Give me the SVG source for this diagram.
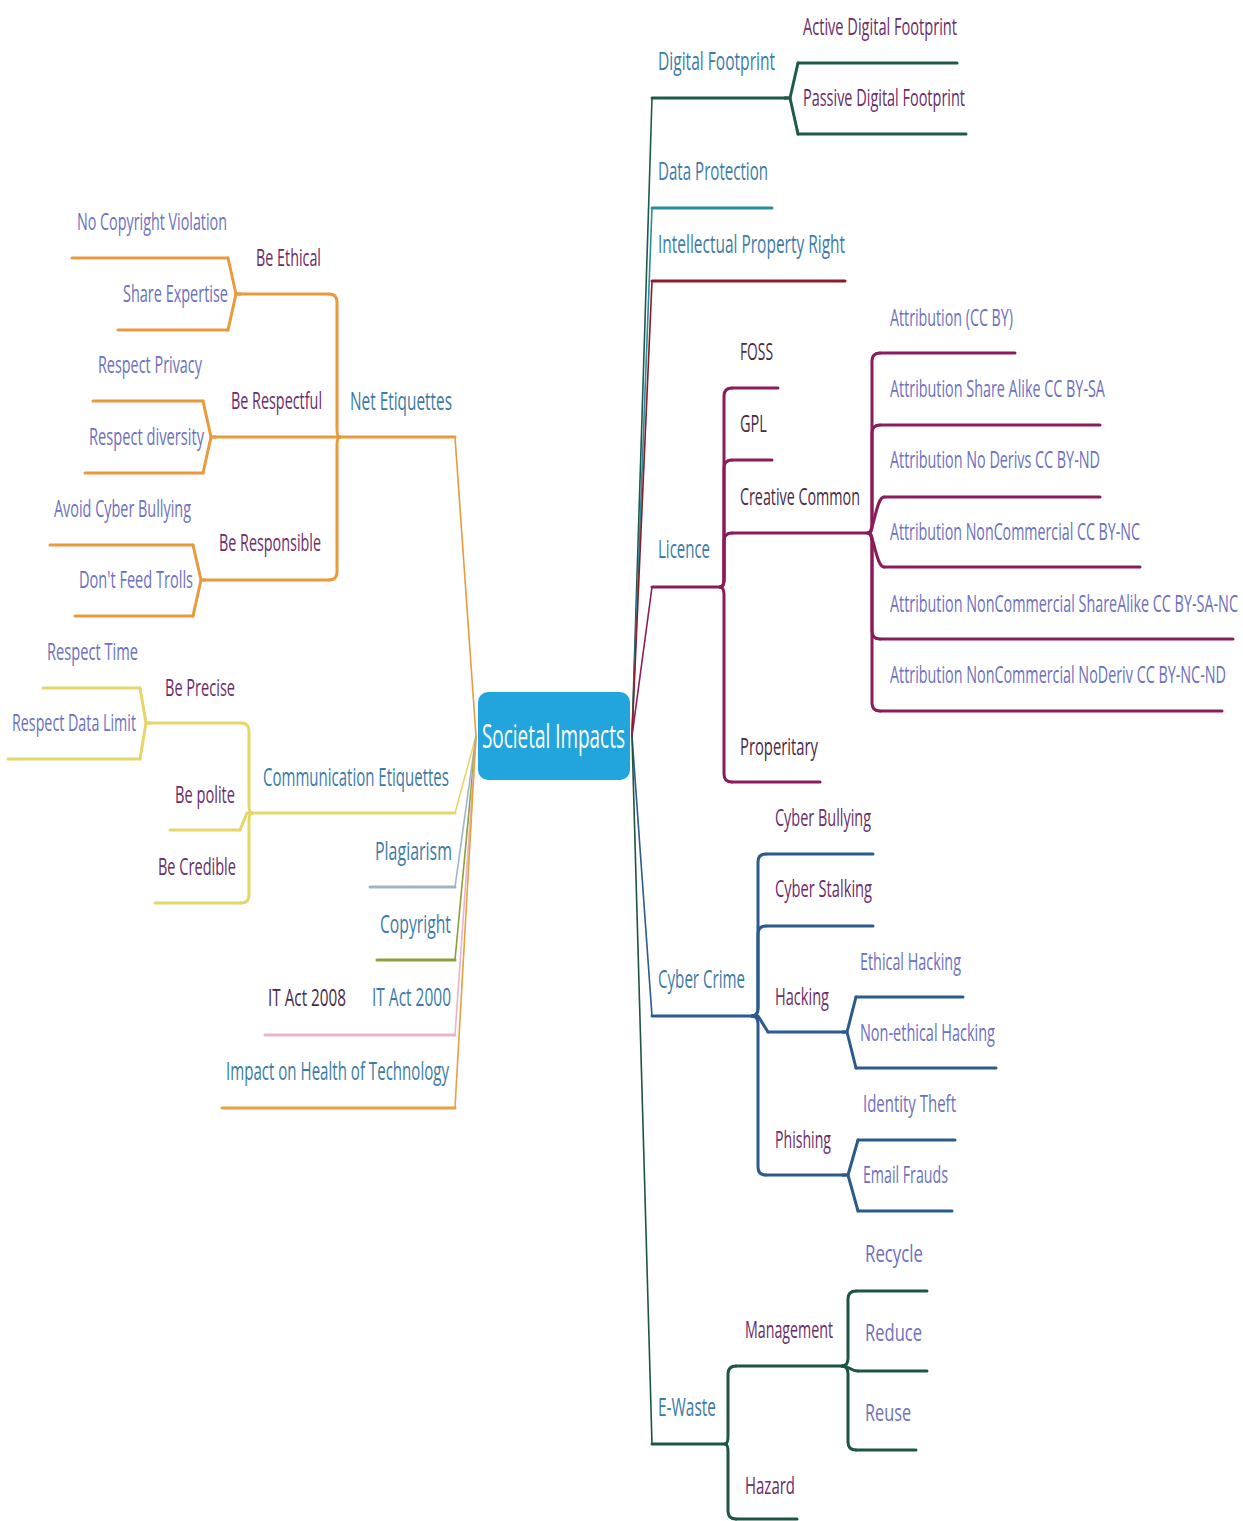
<svg xmlns="http://www.w3.org/2000/svg" width="1243" height="1521" viewBox="0 0 1243 1521">
<style>
text{font-family:"Open Sans","Liberation Sans",sans-serif;transform:scale(0.6,1);transform-origin:0 0}
.l1{font-size:25px;fill:#3b7ba6}
.l2{font-size:24px;fill:#6a2c6a}
.l2d{font-size:24px;fill:#4a2a48}
.l3{font-size:23px;fill:#6c70c0}
.c{fill:none;stroke-width:3;stroke-linecap:round;stroke-linejoin:round}
.tr{fill:none;stroke-width:1.6}
.df{stroke:#1d5a4c}.dp{stroke:#2a8c9c}.ip{stroke:#8b1a2a}.li{stroke:#8a1c5a}.cc{stroke:#2a5a8e}.ew{stroke:#1e5446}
.ne{stroke:#e89a3c}.ce{stroke:#e6d66a}.pl{stroke:#a0b4c8}.co{stroke:#8aa03a}.it{stroke:#e8b4cc}.ih{stroke:#e8a040}
</style>
<g id="connectors">
<path class="tr df" d="M632,736 L652,98"/>
<path class="tr dp" d="M632,736 L652,208"/>
<path class="tr ip" d="M632,736 L652,281"/>
<path class="tr li" d="M632,736 L652,587"/>
<path class="tr cc" d="M632,736 L652,1016"/>
<path class="tr ew" d="M632,736 L652,1444"/>
<path class="tr ne" d="M476,736 L455,437"/>
<path class="tr ce" d="M476,736 L455,813"/>
<path class="tr pl" d="M476,736 L455,887"/>
<path class="tr co" d="M476,736 L455,960"/>
<path class="tr it" d="M476,736 L455,1035"/>
<path class="tr ih" d="M476,736 L455,1108"/>
<path class="c df" d="M785,98 L790,98 L798,63"/>
<path class="c df" d="M785,98 L790,98 L798,134"/>
<path class="c li" d="M720,587 Q724,587 724,579 V396 Q724,388 732,388"/>
<path class="c li" d="M720,587 Q724,587 724,579 V468 Q724,460 732,460"/>
<path class="c li" d="M720,587 Q724,587 724,579 V541 Q724,533 732,533"/>
<path class="c li" d="M720,587 Q724,587 724,595 V774 Q724,782 732,782"/>
<path class="c li" d="M868,533 Q872,533 872,525 V361 Q872,353 880,353"/>
<path class="c li" d="M868,533 Q872,533 872,525 V433 Q872,425 880,425"/>
<path class="c li" d="M868,533 C874,533 876,497 884,497"/>
<path class="c li" d="M868,533 C874,533 876,567 884,567"/>
<path class="c li" d="M868,533 Q872,533 872,541 V631 Q872,639 880,639"/>
<path class="c li" d="M868,533 Q872,533 872,541 V703 Q872,711 880,711"/>
<path class="c cc" d="M752,1016 Q758,1016 758,1008 V862 Q758,854 766,854"/>
<path class="c cc" d="M752,1016 Q758,1016 758,1008 V934 Q758,926 766,926"/>
<path class="c cc" d="M752,1016 L758,1016 L768,1032"/>
<path class="c cc" d="M752,1016 Q758,1016 758,1024 V1167 Q758,1175 766,1175"/>
<path class="c cc" d="M843,1032 L847,1032 L856,997"/>
<path class="c cc" d="M843,1032 L847,1032 L856,1068"/>
<path class="c cc" d="M843,1175 L848,1175 L858,1140"/>
<path class="c cc" d="M843,1175 L848,1175 L858,1211"/>
<path class="c ew" d="M725,1444 Q728,1444 728,1436 V1374 Q728,1366 736,1366"/>
<path class="c ew" d="M725,1444 Q728,1444 728,1452 V1511 Q728,1519 736,1519"/>
<path class="c ew" d="M842,1366 Q848,1366 848,1358 V1299 Q848,1291 856,1291"/>
<path class="c ew" d="M842,1366 C850,1366 850,1371 858,1371"/>
<path class="c ew" d="M842,1366 Q848,1366 848,1374 V1442 Q848,1450 856,1450"/>
<path class="c ne" d="M340,437 Q337,437 337,429 V302 Q337,294 329,294"/>
<path class="c ne" d="M340,437 Q337,437 337,445 V572 Q337,580 329,580"/>
<path class="c ne" d="M240,294 L236,294 L228,258"/>
<path class="c ne" d="M240,294 L236,294 L228,330"/>
<path class="c ne" d="M215,437 L211,437 L203,401"/>
<path class="c ne" d="M215,437 L211,437 L203,473"/>
<path class="c ne" d="M205,580 L201,580 L193,545"/>
<path class="c ne" d="M205,580 L201,580 L193,616"/>
<path class="c ce" d="M252,813 Q249,813 249,805 V731 Q249,723 241,723"/>
<path class="c ce" d="M252,813 L247,813 L240,830"/>
<path class="c ce" d="M252,813 Q249,813 249,821 V895 Q249,903 241,903"/>
<path class="c ce" d="M150,723 L146,723 L140,688"/>
<path class="c ce" d="M150,723 L146,723 L140,759"/>
</g>
<g id="n-center">
<rect x="478" y="692" width="152" height="88" rx="10" fill="#22a5dc"/>
<text x="803.3" y="748" font-size="33" fill="#ffffff" textLength="238.3" lengthAdjust="spacingAndGlyphs">Societal Impacts</text>
</g>
<g id="n-digital-footprint"><path class="c df" d="M652,98 H785"/><text class="l1" x="1096.7" y="70" textLength="195" lengthAdjust="spacingAndGlyphs">Digital Footprint</text></g>
<g id="n-active-df"><path class="c df" d="M798,63 H957"/><text class="l2" x="1338.3" y="35" textLength="256.7" lengthAdjust="spacingAndGlyphs">Active Digital Footprint</text></g>
<g id="n-passive-df"><path class="c df" d="M798,134 H966"/><text class="l2" x="1338.3" y="106" textLength="270" lengthAdjust="spacingAndGlyphs">Passive Digital Footprint</text></g>
<g id="n-data-protection"><path class="c dp" d="M652,208 H772"/><text class="l1" x="1096.7" y="180" textLength="183.3" lengthAdjust="spacingAndGlyphs">Data Protection</text></g>
<g id="n-ipr"><path class="c ip" d="M652,281 H845"/><text class="l1" x="1096.7" y="253" textLength="311.7" lengthAdjust="spacingAndGlyphs">Intellectual Property Right</text></g>
<g id="n-licence"><path class="c li" d="M652,587 H720"/><text class="l1" x="1096.7" y="558" textLength="86.7" lengthAdjust="spacingAndGlyphs">Licence</text></g>
<g id="n-foss"><path class="c li" d="M732,388 H778"/><text class="l2d" x="1233.3" y="360" textLength="55" lengthAdjust="spacingAndGlyphs">FOSS</text></g>
<g id="n-gpl"><path class="c li" d="M732,460 H772"/><text class="l2d" x="1233.3" y="432" textLength="45" lengthAdjust="spacingAndGlyphs">GPL</text></g>
<g id="n-creative-common"><path class="c li" d="M732,533 H868"/><text class="l2d" x="1233.3" y="505" textLength="200" lengthAdjust="spacingAndGlyphs">Creative Common</text></g>
<g id="n-properitary"><path class="c li" d="M732,782 H820"/><text class="l2d" x="1233.3" y="755" textLength="130" lengthAdjust="spacingAndGlyphs">Properitary</text></g>
<g id="n-cc-by"><path class="c li" d="M880,353 H1015"/><text class="l3" x="1483.3" y="326" textLength="205" lengthAdjust="spacingAndGlyphs">Attribution (CC BY)</text></g>
<g id="n-cc-by-sa"><path class="c li" d="M880,425 H1100"/><text class="l3" x="1483.3" y="397" textLength="358.3" lengthAdjust="spacingAndGlyphs">Attribution Share Alike CC BY-SA</text></g>
<g id="n-cc-by-nd"><path class="c li" d="M884,497 H1100"/><text class="l3" x="1483.3" y="468" textLength="350" lengthAdjust="spacingAndGlyphs">Attribution No Derivs CC BY-ND</text></g>
<g id="n-cc-by-nc"><path class="c li" d="M884,567 H1140"/><text class="l3" x="1483.3" y="540" textLength="416.7" lengthAdjust="spacingAndGlyphs">Attribution NonCommercial CC BY-NC</text></g>
<g id="n-cc-by-sa-nc"><path class="c li" d="M880,639 H1233"/><text class="l3" x="1483.3" y="612" textLength="580" lengthAdjust="spacingAndGlyphs">Attribution NonCommercial ShareAlike CC BY-SA-NC</text></g>
<g id="n-cc-by-nc-nd"><path class="c li" d="M880,711 H1222"/><text class="l3" x="1483.3" y="683" textLength="560" lengthAdjust="spacingAndGlyphs">Attribution NonCommercial NoDeriv CC BY-NC-ND</text></g>
<g id="n-cyber-crime"><path class="c cc" d="M652,1016 H752"/><text class="l1" x="1096.7" y="988" textLength="145" lengthAdjust="spacingAndGlyphs">Cyber Crime</text></g>
<g id="n-cyber-bullying"><path class="c cc" d="M766,854 H873"/><text class="l2" x="1291.7" y="826" textLength="160" lengthAdjust="spacingAndGlyphs">Cyber Bullying</text></g>
<g id="n-cyber-stalking"><path class="c cc" d="M766,926 H873"/><text class="l2" x="1291.7" y="897" textLength="161.7" lengthAdjust="spacingAndGlyphs">Cyber Stalking</text></g>
<g id="n-hacking"><path class="c cc" d="M768,1032 H843"/><text class="l2" x="1291.7" y="1005" textLength="90" lengthAdjust="spacingAndGlyphs">Hacking</text></g>
<g id="n-phishing"><path class="c cc" d="M766,1175 H843"/><text class="l2" x="1291.7" y="1148" textLength="93.3" lengthAdjust="spacingAndGlyphs">Phishing</text></g>
<g id="n-ethical-hacking"><path class="c cc" d="M856,997 H963"/><text class="l3" x="1433.3" y="970" textLength="168.3" lengthAdjust="spacingAndGlyphs">Ethical Hacking</text></g>
<g id="n-nonethical-hacking"><path class="c cc" d="M856,1068 H996"/><text class="l3" x="1433.3" y="1041" textLength="225" lengthAdjust="spacingAndGlyphs">Non-ethical Hacking</text></g>
<g id="n-identity-theft"><path class="c cc" d="M858,1140 H955"/><text class="l3" x="1438.3" y="1112" textLength="155" lengthAdjust="spacingAndGlyphs">Identity Theft</text></g>
<g id="n-email-frauds"><path class="c cc" d="M858,1211 H952"/><text class="l3" x="1438.3" y="1183" textLength="141.7" lengthAdjust="spacingAndGlyphs">Email Frauds</text></g>
<g id="n-ewaste"><path class="c ew" d="M652,1444 H725"/><text class="l1" x="1096.7" y="1416" textLength="96.7" lengthAdjust="spacingAndGlyphs">E-Waste</text></g>
<g id="n-management"><path class="c ew" d="M736,1366 H842"/><text class="l2" x="1241.7" y="1338" textLength="146.7" lengthAdjust="spacingAndGlyphs">Management</text></g>
<g id="n-hazard"><path class="c ew" d="M736,1519 H797"/><text class="l2" x="1241.7" y="1494" textLength="83.3" lengthAdjust="spacingAndGlyphs">Hazard</text></g>
<g id="n-recycle"><path class="c ew" d="M856,1291 H927"/><text class="l3" x="1441.7" y="1262" font-size="27" textLength="96.7" lengthAdjust="spacingAndGlyphs">Recycle</text></g>
<g id="n-reduce"><path class="c ew" d="M858,1371 H927"/><text class="l3" x="1441.7" y="1341" font-size="27" textLength="95" lengthAdjust="spacingAndGlyphs">Reduce</text></g>
<g id="n-reuse"><path class="c ew" d="M856,1450 H916"/><text class="l3" x="1441.7" y="1421" font-size="27" textLength="76.7" lengthAdjust="spacingAndGlyphs">Reuse</text></g>
<g id="n-net-etiquettes"><path class="c ne" d="M340,437 H455"/><text class="l1" x="583.3" y="410" textLength="170" lengthAdjust="spacingAndGlyphs">Net Etiquettes</text></g>
<g id="n-be-ethical"><path class="c ne" d="M240,294 H329"/><text class="l2" x="426.7" y="266" textLength="108.3" lengthAdjust="spacingAndGlyphs">Be Ethical</text></g>
<g id="n-be-respectful"><path class="c ne" d="M215,437 H340"/><text class="l2" x="385" y="409" textLength="151.7" lengthAdjust="spacingAndGlyphs">Be Respectful</text></g>
<g id="n-be-responsible"><path class="c ne" d="M205,580 H329"/><text class="l2" x="365" y="551" textLength="170" lengthAdjust="spacingAndGlyphs">Be Responsible</text></g>
<g id="n-no-copyright"><path class="c ne" d="M72,258 H228"/><text class="l3" x="128.3" y="230" textLength="250" lengthAdjust="spacingAndGlyphs">No Copyright Violation</text></g>
<g id="n-share-expertise"><path class="c ne" d="M118,330 H228"/><text class="l3" x="205" y="302" textLength="175" lengthAdjust="spacingAndGlyphs">Share Expertise</text></g>
<g id="n-respect-privacy"><path class="c ne" d="M93,401 H203"/><text class="l3" x="163.3" y="373" textLength="173.3" lengthAdjust="spacingAndGlyphs">Respect Privacy</text></g>
<g id="n-respect-diversity"><path class="c ne" d="M85,473 H203"/><text class="l3" x="148.3" y="445" textLength="191.7" lengthAdjust="spacingAndGlyphs">Respect diversity</text></g>
<g id="n-avoid-bullying"><path class="c ne" d="M50,545 H193"/><text class="l3" x="90" y="517" textLength="228.3" lengthAdjust="spacingAndGlyphs">Avoid Cyber Bullying</text></g>
<g id="n-dont-feed"><path class="c ne" d="M75,616 H193"/><text class="l3" x="131.7" y="588" textLength="190" lengthAdjust="spacingAndGlyphs">Don't Feed Trolls</text></g>
<g id="n-comm-etiquettes"><path class="c ce" d="M252,813 H455"/><text class="l1" x="438.3" y="786" textLength="310" lengthAdjust="spacingAndGlyphs">Communication Etiquettes</text></g>
<g id="n-be-precise"><path class="c ce" d="M150,723 H241"/><text class="l2" x="275" y="696" textLength="116.7" lengthAdjust="spacingAndGlyphs">Be Precise</text></g>
<g id="n-be-polite"><path class="c ce" d="M170,830 H240"/><text class="l2" x="291.7" y="803" textLength="100" lengthAdjust="spacingAndGlyphs">Be polite</text></g>
<g id="n-be-credible"><path class="c ce" d="M155,903 H241"/><text class="l2" x="263.3" y="875" textLength="130" lengthAdjust="spacingAndGlyphs">Be Credible</text></g>
<g id="n-respect-time"><path class="c ce" d="M43,688 H140"/><text class="l3" x="78.3" y="660" textLength="151.7" lengthAdjust="spacingAndGlyphs">Respect Time</text></g>
<g id="n-respect-data"><path class="c ce" d="M8,759 H140"/><text class="l3" x="20" y="731" textLength="206.7" lengthAdjust="spacingAndGlyphs">Respect Data Limit</text></g>
<g id="n-plagiarism"><path class="c pl" d="M370,887 H455"/><text class="l1" x="625" y="860" textLength="128.3" lengthAdjust="spacingAndGlyphs">Plagiarism</text></g>
<g id="n-copyright"><path class="c co" d="M377,960 H455"/><text class="l1" x="633.3" y="933" textLength="118.3" lengthAdjust="spacingAndGlyphs">Copyright</text></g>
<g id="n-it-act-2000"><path class="c it" d="M265,1035 H455"/><text class="l1" x="620" y="1006" textLength="131.7" lengthAdjust="spacingAndGlyphs">IT Act 2000</text></g>
<g id="n-it-act-2008"><text class="l2d" x="446.7" y="1006" textLength="130" lengthAdjust="spacingAndGlyphs">IT Act 2008</text></g>
<g id="n-impact-health"><path class="c ih" d="M222,1108 H455"/><text class="l1" x="376.7" y="1080" textLength="371.7" lengthAdjust="spacingAndGlyphs">Impact on Health of Technology</text></g>
</svg>
